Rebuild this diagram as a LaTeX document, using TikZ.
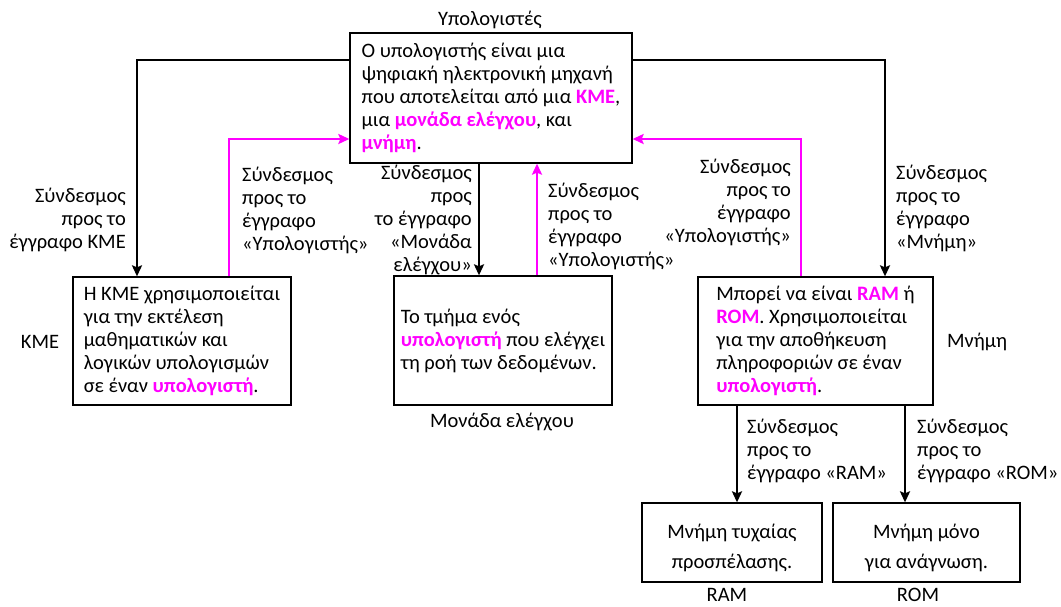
\documentclass[tikz,border=0pt]{standalone}
\usepackage{fontspec}
\setmainfont{Carlito}
\usetikzlibrary{arrows.meta}
\definecolor{mag}{RGB}{255,0,255}
\newcommand{\hl}[1]{\textcolor{mag}{\textbf{#1}}}
\begin{document}
\begin{tikzpicture}[x=1pt,y=-1pt,
  every node/.style={font=\fontsize{20.5}{23}\selectfont},
  card/.style={draw, line width=1.3pt, align=left, inner sep=0pt},
  smallcard/.style={draw, line width=1.3pt, inner sep=0pt},
  caption/.style={inner sep=0pt},
  blk/.style={line width=2.8pt, -{Stealth[length=11pt,width=10pt,inset=2pt]}},
  pnk/.style={line width=2.8pt, mag, -{Stealth[length=11pt,width=10pt,inset=2pt]}}]
\useasboundingbox (0,0) rectangle (1061,606);

% boxes
\node[card, minimum width=282pt, minimum height=130pt] (top) at (491,98)
  {Ο υπολογιστής είναι μια\\ψηφιακή ηλεκτρονική μηχανή\\που αποτελείται από μια \hl{ΚΜΕ},\\μια \hl{μονάδα ελέγχου}, και\\\hl{μνήμη}.};
\node[card, minimum width=218pt, minimum height=128pt] (kme) at (182,341)
  {Η ΚΜΕ χρησιμοποιείται\\για την εκτέλεση\\μαθηματικών και\\λογικών υπολογισμών\\σε έναν \hl{υπολογιστή}.};
\node[card, minimum width=218pt, minimum height=129pt] (mid) at (503,340.5)
  {Το τμήμα ενός\\\hl{υπολογιστή} που ελέγχει\\τη ροή των δεδομένων.};
\node[card, minimum width=235pt, minimum height=128pt] (mem) at (815.5,341)
  {Μπορεί να είναι \hl{RAM} ή\\\hl{ROM}. Χρησιμοποιείται\\για την αποθήκευση\\πληροφοριών σε έναν\\\hl{υπολογιστή}.};
\node[smallcard, minimum width=180pt, minimum height=79pt] (ram) at (732,542.5) {};
\node[caption, align=center] (ramtxt) at ([yshift=-5pt]ram.center)
  {Μνήμη τυχαίας\\[7pt]προσπέλασης.};
\node[smallcard, minimum width=187pt, minimum height=79pt] (rom) at (926.5,542.5) {};
\node[caption, align=center] (romtxt) at ([yshift=-5pt]rom.center)
  {Μνήμη μόνο\\[7pt]για ανάγνωση.};

% box titles
\node[caption] (ttop) at (490,20) {Υπολογιστές};
\node[caption] (tkme) at (40,342) {ΚΜΕ};
\node[caption] (tmid) at (502,422) {Μονάδα ελέγχου};
\node[caption, anchor=west] (tmem) at (947,342) {Μνήμη};
\node[caption] (tram) at (727,595) {RAM};
\node[caption] (trom) at (918,595) {ROM};

% connector labels
\node[caption, anchor=east, align=right] (l1) at (126,220) {Σύνδεσμος\\προς το\\έγγραφο ΚΜΕ};
\node[caption, anchor=west, align=left] (l2) at (242,210) {Σύνδεσμος\\προς το\\έγγραφο\\«Υπολογιστής»};
\node[caption, anchor=east, align=right] (l3) at (472,220) {Σύνδεσμος\\προς\\το έγγραφο\\«Μονάδα\\ελέγχου»};
\node[caption, anchor=west, align=left] (l4) at (548,226) {Σύνδεσμος\\προς το\\έγγραφο\\«Υπολογιστής»};
\node[caption, anchor=east, align=right] (l5) at (791,202) {Σύνδεσμος\\προς το\\έγγραφο\\«Υπολογιστής»};
\node[caption, anchor=west, align=left] (l6) at (896,208) {Σύνδεσμος\\προς το\\έγγραφο\\«Μνήμη»};
\node[caption, anchor=west, align=left] (l7) at (747,451) {Σύνδεσμος\\προς το\\έγγραφο «RAM»};
\node[caption, anchor=west, align=left] (l8) at (917,451) {Σύνδεσμος\\προς το\\έγγραφο «ROM»};

% connectors
\draw[blk] ([yshift=38pt]top.west) -| ([xshift=-45pt]kme.north);
\draw[pnk] ([xshift=47pt]kme.north) |- ([yshift=-41pt]top.west);
\draw[blk] ([xshift=-12pt]top.south) -- ([xshift=-24pt]mid.north);
\draw[pnk] ([xshift=34pt]mid.north) -- ([xshift=46pt]top.south);
\draw[blk] ([yshift=38pt]top.east) -| ([xshift=69.5pt]mem.north);
\draw[pnk] ([xshift=-14.5pt]mem.north) |- ([yshift=-41pt]top.east);
\draw[blk] ([xshift=-78.5pt]mem.south) -- ([xshift=5pt]ram.north);
\draw[blk] ([xshift=89.5pt]mem.south) -- ([xshift=-21.5pt]rom.north);
\end{tikzpicture}
\end{document}
